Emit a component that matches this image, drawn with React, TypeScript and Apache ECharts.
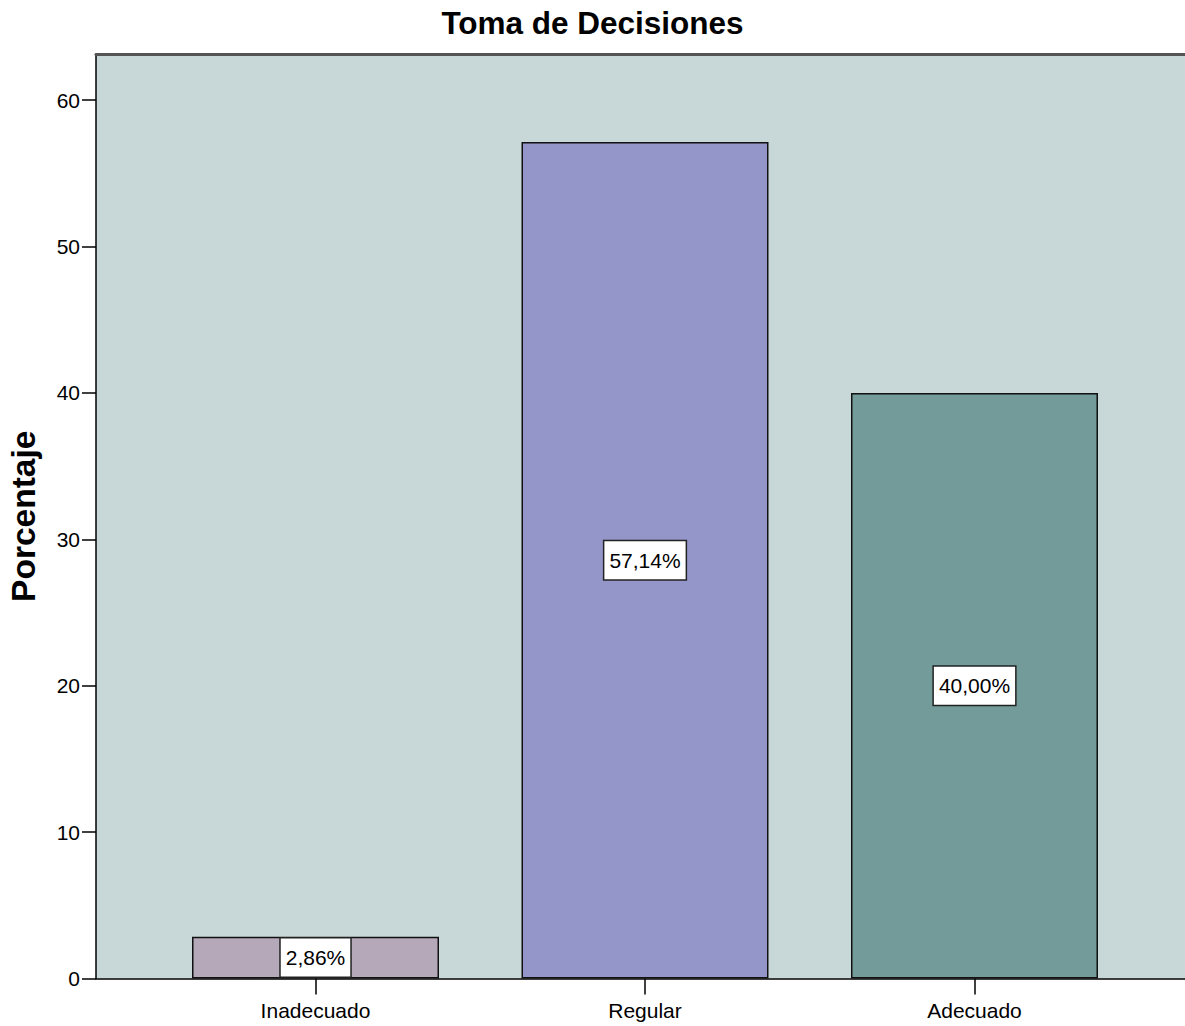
import React, { useEffect, useRef } from "react";
import * as echarts from "echarts";

const categories = ["Inadecuado", "Regular", "Adecuado"];
const percentages = [2.86, 57.14, 40.0];
const barColors = ["#b5a8b8", "#9495c8", "#729b9a"];
const yTicks = [0, 10, 20, 30, 40, 50, 60];
const xPositions = [1, 2, 3];

const FONT = "Arial, 'Liberation Sans', sans-serif";

export default function App() {
  const ref = useRef<HTMLDivElement>(null);
  useEffect(() => {
    if (!ref.current) return;
    const chart = echarts.init(ref.current, null, { renderer: "svg" });
    const xMin = 0.3338;
    const xMax = 3.6389;
    chart.setOption({
      animation: false,
      backgroundColor: "#ffffff",
      textStyle: { fontFamily: FONT },
      title: {
        text: "Toma de Decisiones",
        left: "center",
        top: 2,
        textStyle: { fontSize: 31.5, fontWeight: "bold", color: "#000", fontFamily: FONT },
      },
      grid: {
        left: 96,
        right: 0,
        top: 54,
        bottom: 47.5,
        show: true,
        outerBoundsMode: "none",
        containLabel: false,
        backgroundColor: "#c8d8d8",
        borderWidth: 0,
      },
      xAxis: [
        {
          type: "value",
          min: xMin,
          max: xMax,
          position: "bottom",
          splitLine: { show: false },
          axisLine: { show: true, onZero: false, lineStyle: { color: "#000", width: 1.5 } },
          axisTick: {
            show: true,
            customValues: xPositions,
            length: 16,
            lineStyle: { color: "#000", width: 1.5 },
          },
          axisLabel: {
            customValues: xPositions,
            margin: 21,
            fontSize: 21,
            color: "#000",
            fontFamily: FONT,
            formatter: (v: number) => categories[Math.round(v) - 1] ?? "",
          },
        },
        {
          type: "value",
          min: xMin,
          max: xMax,
          position: "top",
          splitLine: { show: false },
          axisLine: { show: true, onZero: false, lineStyle: { color: "#555", width: 3 } },
          axisTick: { show: false },
          axisLabel: { show: false },
        },
      ],
      yAxis: {
        type: "value",
        min: 0,
        max: 63.15,
        interval: 10,
        name: "Porcentaje",
        nameLocation: "middle",
        nameRotate: 90,
        nameGap: 56,
        nameTextStyle: { fontSize: 33.5, fontWeight: "bold", color: "#000", fontFamily: FONT },
        splitLine: { show: false },
        axisLine: { show: true, lineStyle: { color: "#000", width: 1.5 } },
        axisTick: {
          show: true,
          customValues: yTicks,
          length: 14,
          lineStyle: { color: "#000", width: 1.5 },
        },
        axisLabel: {
          customValues: yTicks,
          margin: 16,
          fontSize: 21,
          color: "#000",
          fontFamily: FONT,
        },
      },
      series: [
        {
          type: "bar",
          xAxisIndex: 0,
          barWidth: 247,
          data: percentages.map((v, i) => ({
            value: [xPositions[i], v],
            itemStyle: { color: barColors[i], borderColor: "#111", borderWidth: 1.5 },
          })),
          label: {
            show: true,
            position: "inside",
            color: "#000",
            fontSize: 21,
            fontFamily: FONT,
            backgroundColor: "#ffffff",
            borderColor: "#222",
            borderWidth: 1.5,
            padding: [9, 5, 8, 5],
            formatter: (p: any) => p.value[1].toFixed(2).replace(".", ",") + "%",
          },
        },
      ],
    });
    return () => chart.dispose();
  }, []);
  return (
    <div
      ref={ref}
      style={{ position: "absolute", left: 0, top: 0, width: 1185, height: 1026 }}
    />
  );
}
